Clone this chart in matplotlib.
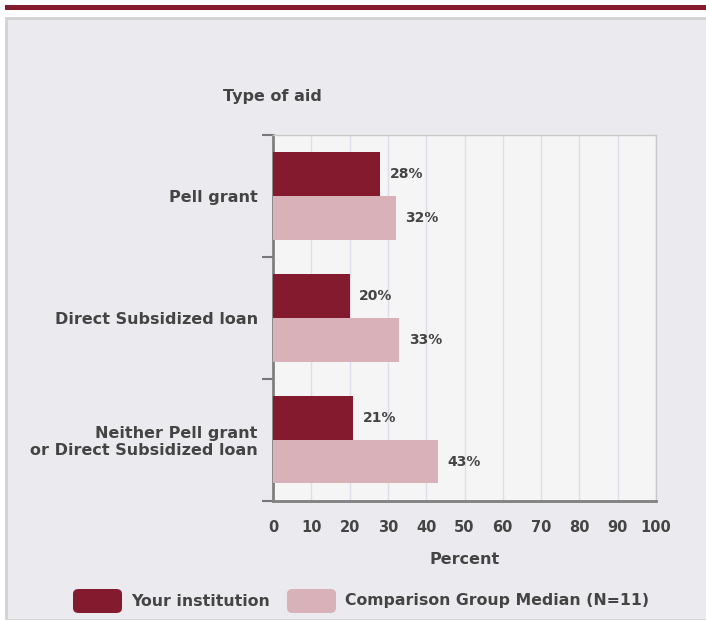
import matplotlib.pyplot as plt
from matplotlib.patches import Rectangle, FancyBboxPatch

# Data
categories = ['Pell grant', 'Direct Subsidized loan', 'Neither Pell grant\nor Direct Subsidized loan']
your_institution = [28, 20, 21]
comparison_median = [32, 33, 43]
series_names = ['Your institution', 'Comparison Group Median (N=11)']
x_ticks = [0, 10, 20, 30, 40, 50, 60, 70, 80, 90, 100]

dark = '#841A2D'
light = '#D8B2B8'
text_col = '#444444'
W, H = 706, 620

fig = plt.figure(figsize=(W / 100, H / 100), dpi=100)
fig.patch.set_facecolor('white')

# panel background and top band
fig.patches.append(Rectangle((6 / W, 0), 1, 1 - 18 / H, transform=fig.transFigure,
                             facecolor='#EBEBEF', edgecolor='#D2D2D2', linewidth=2, zorder=-10))
fig.patches.append(Rectangle((5 / W, 1 - 10 / H), 1, 5 / H, transform=fig.transFigure,
                             facecolor=dark, edgecolor='none', zorder=-10))

ax = fig.add_axes([273 / W, 1 - 500.5 / H, (656 - 273) / W, (500.5 - 135) / H])
ax.set_facecolor('#F5F5F5')

pos = list(range(len(categories)))
bh = 0.36
ax.barh([p - bh / 2 for p in pos], your_institution, height=bh, color=dark, zorder=3)
ax.barh([p + bh / 2 for p in pos], comparison_median, height=bh, color=light, zorder=3)

for p, v in zip(pos, your_institution):
    ax.text(v + 2.5, p - bh / 2, f'{v}%', va='center', ha='left', fontsize=10,
            fontweight='bold', color=text_col)
for p, v in zip(pos, comparison_median):
    ax.text(v + 2.5, p + bh / 2, f'{v}%', va='center', ha='left', fontsize=10,
            fontweight='bold', color=text_col)

ax.set_xlim(0, 100)
ax.set_ylim(2.5, -0.5)
ax.set_xticks(x_ticks)
ax.set_xticklabels([str(t) for t in x_ticks], fontsize=10.5, fontweight='bold', color=text_col)
ax.tick_params(axis='x', length=0, pad=14)
ax.xaxis.grid(True, color='#DCDFEA', linewidth=1, zorder=0)
ax.set_axisbelow(True)

ax.set_yticks(pos)
ax.set_yticklabels(categories, fontsize=11.5, fontweight='bold', color=text_col,
                   linespacing=1.2)
ax.tick_params(axis='y', which='major', length=0, pad=11)
ax.set_yticks([-0.5, 0.5, 1.5, 2.5], minor=True)
ax.tick_params(axis='y', which='minor', length=8, width=1.5, color='#777777', direction='out')

for s in ['left', 'bottom']:
    ax.spines[s].set_color('#808080')
    ax.spines[s].set_linewidth(2)
for s in ['top', 'right']:
    ax.spines[s].set_color('#C8C8C8')
    ax.spines[s].set_linewidth(1)

ax.set_xlabel('Percent', fontsize=11.5, fontweight='bold', color=text_col, labelpad=12)
fig.text(272 / W, 1 - 97 / H, 'Type of aid', ha='center', va='center', fontsize=11.5,
         fontweight='bold', color=text_col)

# legend
ly = 1 - 601 / H
for x0, col, name in [(73, dark, series_names[0]), (287, light, series_names[1])]:
    fig.patches.append(FancyBboxPatch((x0 / W, ly - 12 / H), 49 / W, 24 / H,
                                      boxstyle='round,pad=0,rounding_size=0.008',
                                      transform=fig.transFigure, facecolor=col,
                                      edgecolor='none', zorder=2))
    fig.text((x0 + 58) / W, ly, name, ha='left', va='center', fontsize=11.3,
             fontweight='bold', color=text_col)

fig.savefig('out.png', dpi=100)
